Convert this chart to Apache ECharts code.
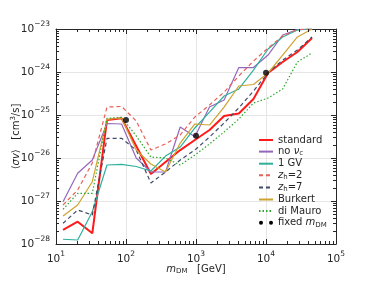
<!DOCTYPE html>
<html><head><meta charset="utf-8">
<script src="https://cdn.jsdelivr.net/npm/echarts@6/dist/echarts.min.js"></script>
<style>html,body{margin:0;padding:0;background:#fff}#c{width:374px;height:288px}</style>
</head><body><div id="c"></div>
<script>
// ---- data ----
const masses = [12.6, 20.4, 33, 53.5, 86.5, 140, 227, 367, 595, 963, 1560, 2520, 4090, 6620, 10700, 17300, 28100, 45500];
const standard = [2.12e-28, 3.30e-28, 1.77e-28, 7.65e-26, 8.38e-26, 1.90e-26, 4.25e-27, 8.07e-27, 1.53e-26, 2.62e-26, 4.48e-26, 9.48e-26, 1.08e-25, 2.36e-25, 9.48e-25, 1.71e-24, 2.92e-24, 6.18e-24];
const noNuC = [9.64e-28, 4.41e-27, 8.98e-27, 6.34e-26, 6.18e-26, 1.0e-26, 4.72e-27, 4.72e-27, 5.26e-26, 3.13e-26, 1.53e-25, 2.23e-25, 1.27e-24, 1.27e-24, 2.48e-24, 7.25e-24, 9.7e-24, 1.0e-23];
const oneGV = [1.29e-28, 1.24e-28, 5.64e-28, 6.87e-27, 7.13e-27, 6.34e-27, 4.99e-27, 1.11e-26, 1.80e-26, 4.99e-26, 1.17e-25, 2.77e-25, 4.03e-25, 1.11e-24, 3.43e-24, 6.52e-24, 9.5e-24, 1.0e-23];
const zh2 = [8.07e-28, 1.80e-27, 7.65e-27, 1.53e-25, 1.58e-25, 7.25e-26, 1.53e-26, 2.12e-26, 3.43e-26, 8.98e-26, 1.71e-25, 3.43e-25, 8.07e-25, 1.80e-24, 3.61e-24, 6.87e-24, 9.7e-24, 1.0e-23];
const zh7 = [3.03e-28, 6.18e-28, 4.72e-28, 2.87e-26, 2.87e-26, 1.53e-26, 2.62e-27, 4.72e-27, 8.98e-27, 1.53e-26, 3.08e-26, 6.52e-26, 1.46e-25, 3.61e-25, 9.48e-25, 1.90e-24, 3.25e-24, 6.52e-24];
const burkert = [4.48e-28, 8.07e-28, 2.81e-27, 7.85e-26, 8.51e-26, 1.53e-26, 7.25e-27, 4.72e-27, 2.23e-26, 6.18e-26, 5.85e-26, 1.53e-25, 4.72e-25, 5.12e-25, 9.48e-25, 2.48e-24, 6.52e-24, 1.0e-23];
const diMauro = [6.41e-28, 1.51e-27, 1.51e-27, 8.38e-26, 8.85e-26, 3.25e-26, 1.05e-26, 1.0e-26, 6.87e-27, 1.17e-26, 2.12e-26, 4.03e-26, 8.07e-26, 1.90e-25, 2.48e-25, 4.03e-25, 1.71e-24, 2.77e-24];
const fixedMass = [100, 1000, 10000];
const fixedSigma = [7.65e-26, 3.3e-26, 9.6e-25];
const legendNames = ['standard', 'no nu_c', '1 GV', 'z_h=2', 'z_h=7', 'Burkert', 'di Mauro', 'fixed m_DM'];
const X_MIN = 10, X_MAX = 1e5, Y_MIN_EXP = -28, Y_MAX_EXP = -23;

// ---- helpers ----
// values are plotted in units of 1e-28 cm^3/s to keep the log axis within float rounding range
const Y_UNIT_EXP = -28;
const yScale = v => v * Math.pow(10, -Y_UNIT_EXP);
const Y_MIN = Math.pow(10, Y_MIN_EXP - Y_UNIT_EXP), Y_MAX = Math.pow(10, Y_MAX_EXP - Y_UNIT_EXP);
const FONT = 'DejaVu Sans';
const INK = '#262626';
const pair = (xs, ys) => xs.map((x, i) => [x, yScale(ys[i])]);
function expText(e) { return e < 0 ? '\u2212' + (-e) : String(e); }
const labelRich = {
  b: {fontSize: 10.5, fontFamily: FONT, color: INK},
  s: {fontSize: 7.5, fontFamily: FONT, color: INK, padding: [0, 0, 10, 0]}
};
const xLabel = v => '{b|10}{s|' + expText(Math.round(Math.log10(v))) + '}';
const yLabel = v => '{b|10}{s|' + expText(Math.round(Math.log10(v)) + Y_UNIT_EXP) + '}';
const minorX = [], minorY = [];
for (let d = 1; d < 5; d++) for (let k = 2; k <= 9; k++) minorX.push(k * Math.pow(10, d));
for (let d = 0; d < 5; d++) for (let k = 2; k <= 9; k++) minorY.push(k * Math.pow(10, d));

function ticksRender(params, api) {
  const a = api.coord([X_MIN, Y_MIN]), b = api.coord([X_MAX, Y_MAX]);
  const L = a[0], B = a[1], R = b[0], T = b[1];
  const st = {stroke: INK, lineWidth: 1};
  const ch = [];
  const len = 3;
  minorX.forEach(m => {
    const p = Math.round(api.coord([m, Y_MIN])[0]) + 0.5;
    ch.push({type: 'line', shape: {x1: p, y1: B, x2: p, y2: B - len}, style: st});
    ch.push({type: 'line', shape: {x1: p, y1: T, x2: p, y2: T + len}, style: st});
  });
  minorY.forEach(v => {
    const p = Math.round(api.coord([X_MIN, v])[1]) + 0.5;
    ch.push({type: 'line', shape: {x1: L, y1: p, x2: L + len, y2: p}, style: st});
    ch.push({type: 'line', shape: {x1: R, y1: p, x2: R - len, y2: p}, style: st});
  });
  return {type: 'group', children: ch, silent: true};
}

function lineSeries(name, data, color, width, type) {
  return {
    name, type: 'line', data: pair(masses, data), symbol: 'none', showSymbol: false,
    lineStyle: {color, width, type: type || 'solid'}, itemStyle: {color},
    emphasis: {disabled: true}, animation: false, clip: true, z: 3
  };
}

const axisCommon = {
  type: 'log', logBase: 10,
  axisLine: {show: true, lineStyle: {color: INK, width: 1}},
  axisTick: {show: true, inside: true, length: 5, lineStyle: {color: INK, width: 1}},
  minorTick: {show: false}
};

const legendFmt = {
  'standard': 'standard',
  'no nu_c': 'no {i|\u03bd}{sub|c}',
  '1 GV': '1 GV',
  'z_h=2': '{i|z}{sub|h}=2',
  'z_h=7': '{i|z}{sub|h}=7',
  'Burkert': 'Burkert',
  'di Mauro': 'di Mauro',
  'fixed m_DM': 'fixed {i|m}{sub|DM}'
};

const chart = echarts.init(document.getElementById('c'), null, {renderer: 'canvas'});
chart.setOption({
  animation: false,
  backgroundColor: '#ffffff',
  grid: {left: 56, top: 29, right: 38, bottom: 44, containLabel: false, outerBoundsMode: 'none'},
  xAxis: [
    Object.assign({}, axisCommon, {
      min: X_MIN, max: X_MAX, position: 'bottom',
      axisLabel: {formatter: xLabel, rich: labelRich, margin: 6, color: INK},
      splitLine: {show: true, lineStyle: {color: '#e6e6e6', width: 1}},
      name: '{i|m}{sub|DM}   [GeV]', nameLocation: 'middle', nameGap: 19, nameMoveOverlap: false,
      nameTextStyle: {fontSize: 10, fontFamily: FONT, color: INK, rich: {
        i: {fontStyle: 'italic', fontSize: 10, fontFamily: FONT, color: INK},
        sub: {fontSize: 7, fontFamily: FONT, color: INK, padding: [5, 0, 0, 0]}
      }}
    }),
    Object.assign({}, axisCommon, {
      min: X_MIN, max: X_MAX, position: 'top',
      axisLabel: {show: false}, splitLine: {show: false}
    })
  ],
  yAxis: [
    Object.assign({}, axisCommon, {
      min: Y_MIN, max: Y_MAX, position: 'left',
      axisLabel: {formatter: yLabel, rich: labelRich, margin: 6, color: INK},
      splitLine: {show: true, lineStyle: {color: '#e6e6e6', width: 1}},
      name: '\u27e8{i|\u03c3v}\u27e9   [cm{sup|3}/s]', nameLocation: 'middle', nameGap: 33, nameRotate: 90,
      nameMoveOverlap: false,
      nameTextStyle: {fontSize: 10, fontFamily: FONT, color: INK, rich: {
        i: {fontStyle: 'italic', fontSize: 10, fontFamily: FONT, color: INK},
        sup: {fontSize: 7, fontFamily: FONT, color: INK, padding: [0, 0, 6, 0]}
      }}
    }),
    Object.assign({}, axisCommon, {
      min: Y_MIN, max: Y_MAX, position: 'right',
      axisLabel: {show: false}, splitLine: {show: false}
    })
  ],
  legend: {
    orient: 'vertical', left: 258, top: 135, padding: 0,
    itemWidth: 14, itemHeight: 8, itemGap: 1.6,
    data: legendNames.map(n => n === 'fixed m_DM'
      ? {name: n, icon: 'path://M0,2a2,2 0 1,0 4,0a2,2 0 1,0 -4,0zM10,2a2,2 0 1,0 4,0a2,2 0 1,0 -4,0z', itemStyle: {color: '#000', opacity: 1}}
      : {name: n, itemStyle: {opacity: 0}}),
    formatter: n => legendFmt[n],
    textStyle: {fontSize: 10, fontFamily: FONT, color: INK, lineHeight: 8, rich: {
      i: {fontStyle: 'italic', fontSize: 10, fontFamily: FONT, color: INK},
      sub: {fontSize: 7, fontFamily: FONT, color: INK, padding: [4, 0, 0, 0]}
    }},
    selectedMode: false, backgroundColor: 'rgba(255,255,255,0)'
  },
  series: [
    {type: 'custom', coordinateSystem: 'cartesian2d', xAxisIndex: 0, yAxisIndex: 0,
     data: [[X_MIN, Y_MIN]], renderItem: ticksRender, silent: true, z: 5, clip: false, animation: false},
    lineSeries('standard', standard, '#ff1a1a', 2),
    lineSeries('no nu_c', noNuC, '#9467bd', 1.2),
    lineSeries('1 GV', oneGV, '#2fb09c', 1.2),
    lineSeries('z_h=2', zh2, '#e8605a', 1.2, [4, 3]),
    lineSeries('z_h=7', zh7, '#3e4a68', 1.2, [4, 3]),
    lineSeries('Burkert', burkert, '#cfa22f', 1.2),
    lineSeries('di Mauro', diMauro, '#2ca82c', 1.2, [1.5, 2]),
    {name: 'fixed m_DM', type: 'scatter', data: pair(fixedMass, fixedSigma), symbol: 'circle', symbolSize: 6,
     itemStyle: {color: '#000'}, z: 6, animation: false}
  ]
});
</script>
</body></html>
